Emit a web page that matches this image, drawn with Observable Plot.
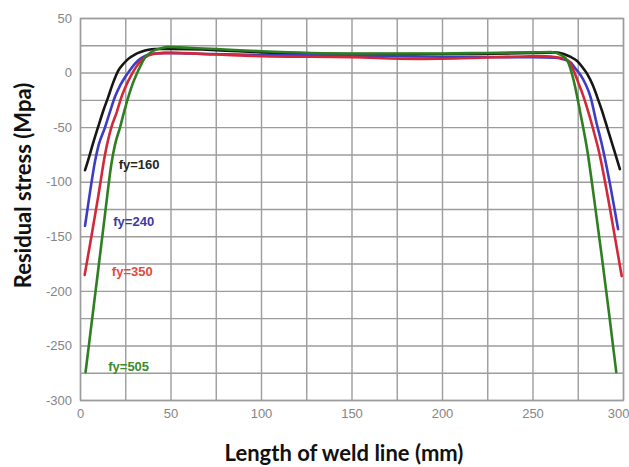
<!DOCTYPE html>
<html>
<head>
<meta charset="utf-8">
<script src="https://cdn.jsdelivr.net/npm/d3@7"></script>
<script src="https://cdn.jsdelivr.net/npm/@observablehq/plot@0.6"></script>
<style>
  html, body { margin: 0; padding: 0; background: #fff; }
  #chart { width: 629px; height: 467px; }
</style>
</head>
<body>
<div id="chart"></div>
<script>
// Series: fy = 160 (black)
const x160 = [2.5, 4.2, 7, 9.8, 12.5, 15.3, 18, 20.8, 24, 26.4, 30, 33.6, 41, 50, 75, 100, 150, 200, 250, 262, 267, 270.5, 274.4, 277, 280, 283, 285.5, 288, 291, 294.7, 298];
const y160 = [-89, -80, -64, -49, -35, -22, -9, 2, 9, 13, 17, 19.5, 22, 22, 21, 19, 17.5, 17.5, 18.5, 19, 17.5, 15, 11, 6, -1, -11, -22, -34, -50, -70, -88];
// Series: fy = 240 (blue)
const x240 = [2.5, 4, 6, 8, 10, 13.5, 16, 19, 22, 24.5, 27, 30, 33, 36, 41, 47, 60, 100, 150, 200, 250, 262, 266, 270.7, 273, 276, 279, 281.8, 285, 288, 292, 297];
const y240 = [-140, -123, -101, -81, -66, -50, -37, -22, -11, -4, 2, 8.5, 13, 16, 18, 18.5, 18, 16.5, 16, 15, 14.5, 14, 13, 10, 5, -1, -10, -22, -45, -65, -97, -143];
// Series: fy = 350 (red)
const x350 = [2.3, 6, 9.8, 13.5, 17, 20, 22.6, 25, 28, 30.5, 32.8, 35, 37.4, 42, 50, 75, 100, 150, 186, 220, 241, 255, 265, 269.8, 272.5, 275.3, 278, 280.8, 283.5, 286.3, 292.5, 299];
const y350 = [-185, -150, -113, -75, -50, -36, -22, -12, -2, 5, 10, 13.5, 16, 18, 18.5, 17, 15.5, 14.5, 13, 14, 15, 15.5, 14, 11, 2, -10, -22, -37, -53, -71, -124, -186];
// Series: fy = 505 (green)
const x505 = [2.8, 6, 9.8, 13.5, 17, 19, 21.8, 24, 26.4, 29, 31, 33, 35.6, 38, 41, 45, 48.5, 55, 75, 100, 150, 200, 223, 250, 260, 265, 268.9, 272.5, 276.2, 280, 284, 288, 292, 296];
const y505 = [-274, -231, -180, -130, -84, -66, -50, -36, -22, -9, -1, 6, 14, 18, 21, 23, 24, 23.5, 22, 20, 18, 18, 18.4, 19, 19.3, 17, 11.6, -7, -37, -71, -118, -168, -220, -274];

const seriesNames = ["fy=160", "fy=240", "fy=350", "fy=505"];
const seriesColors = ["#161616", "#3d3dc4", "#d2283a", "#2f7f22"];
const labelColors = ["#262626", "#3a3aa8", "#e24a44", "#3c8c2c"];
const labelX = [32.4, 29.4, 28.6, 26.6];
const labelY = [-83.7, -136, -182.4, -269.5];

const xTicks = [0, 50, 100, 150, 200, 250];
const xLastTick = [300];
const yTicks = [50, 0, -50, -100, -150, -200, -250, -300];
const xGrid = [0, 25, 50, 75, 100, 125, 150, 175, 200, 225, 250, 275, 300];
const yGrid = [50, 25, 0, -25, -50, -75, -100, -125, -150, -175, -200, -225, -250, -275, -300];

const xTitle = "Length of weld line (mm)";
const yTitle = "Residual stress (Mpa)";

const xs = [x160, x240, x350, x505];
const ys = [y160, y240, y350, y505];
const rows = [];
seriesNames.forEach((name, i) => {
  xs[i].forEach((xv, j) => rows.push({series: name, x: xv, y: ys[i][j]}));
});
const labels = seriesNames.map((name, i) => ({series: name, x: labelX[i], y: labelY[i], color: labelColors[i]}));

const tickStyle = {tickSize: 0, fill: "#858585", fontSize: 13, label: null, tickFormat: (d) => String(d)};

const chart = Plot.plot({
  width: 629,
  height: 467,
  marginTop: 18,
  marginBottom: 67,
  marginLeft: 80,
  marginRight: 6,
  style: {fontFamily: "'Liberation Sans', Arial, sans-serif", fontSize: "13px", background: "#fff"},
  x: {domain: [0, 300]},
  y: {domain: [-300, 50]},
  color: {domain: seriesNames, range: seriesColors},
  marks: [
    Plot.gridX(xGrid, {stroke: "#9c9c9c", strokeOpacity: 1, strokeWidth: 1.4}),
    Plot.gridY(yGrid, {stroke: "#9c9c9c", strokeOpacity: 1, strokeWidth: 1.4}),
    Plot.frame({stroke: "#9c9c9c", strokeWidth: 1.4}),
    Plot.axisX(xTicks, {...tickStyle, tickPadding: 8}),
    Plot.axisX(xLastTick, {...tickStyle, tickPadding: 8, textAnchor: "end", dx: 6}),
    Plot.axisY(yTicks, {...tickStyle, tickPadding: 8.5}),
    Plot.line(rows, {x: "x", y: "y", z: "series", stroke: "series", strokeWidth: 2.6, curve: "monotone-x"}),
    Plot.text(labels, {x: "x", y: "y", text: "series", fill: "color", fontWeight: "bold", fontSize: 13}),
    Plot.text([xTitle], {frameAnchor: "bottom", textAnchor: "middle", lineAnchor: "middle", dx: -8, dy: 53, fontFamily: "Lato, 'Open Sans', sans-serif", fontWeight: "bold", fontSize: 22, fill: "#111"}),
    Plot.text([yTitle], {frameAnchor: "left", textAnchor: "middle", lineAnchor: "middle", dx: -57, dy: -24, rotate: -90, fontFamily: "Lato, 'Open Sans', sans-serif", fontWeight: "bold", fontSize: 22, fill: "#111"})
  ]
});
document.getElementById("chart").appendChild(chart);
</script>
</body>
</html>
